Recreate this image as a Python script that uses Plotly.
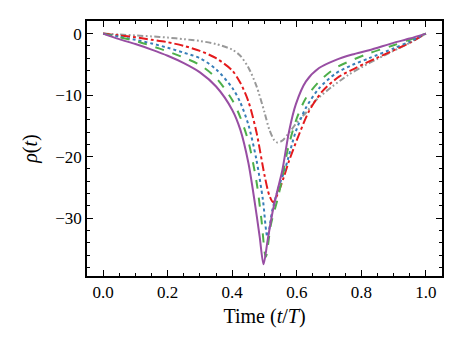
import plotly.graph_objects as go

# time (t/T) and rho(t), one pair of lists per curve
t_purple = [0, .05, .1, .15, .2, .25, .3, .35, .4, .425, .45, .47, .485, .497,
            .51, .525, .54, .555, .576, .597, .628, .669, .72, .772, .824,
            .9, .95, 1]
rho_purple = [0, -0.9, -1.7, -2.6, -3.6, -4.8, -6.3, -8.6, -12.4, -15.6, -21.0,
              -27.5, -33, -37.5, -33.5, -29, -25.5, -22.3, -15.9, -11.5, -7.8,
              -5.6, -4.3, -3.4, -2.7, -1.5, -0.8, 0]

t_green = [0, .05, .1, .15, .2, .25, .3, .35, .4, .425, .45, .475, .49, .504,
           .52, .54, .555, .571, .597, .628, .669, .72, .772, .824, .9, .95, 1]
rho_green = [0, -0.6, -1.2, -2.0, -2.9, -3.9, -5.1, -7.2, -10.8, -13.6, -17.5,
             -24, -30, -36.3, -31, -27, -23.5, -19.1, -14.2, -10.5, -7.8,
             -5.6, -4.3, -3.2, -1.9, -1.0, 0]

t_blue = [0, .05, .1, .15, .2, .25, .3, .35, .4, .425, .45, .475, .495, .509,
          .525, .545, .565, .597, .628, .669, .72, .772, .824, .9, .95, 1]
rho_blue = [0, -0.5, -1.0, -1.6, -2.3, -3.1, -4.0, -5.8, -8.8, -11.2, -14.8,
            -20.5, -27, -33, -28.5, -24.8, -21.8, -15.9, -12.1, -8.9, -6.5,
            -5.1, -4.0, -2.4, -1.3, 0]

t_red = [0, .05, .1, .15, .2, .25, .3, .35, .4, .425, .45, .475, .5, .515, .527,
         .545, .56, .576, .607, .638, .679, .731, .782, .813, .85, .9, .95, 1]
rho_red = [0, -0.3, -0.6, -1.0, -1.4, -2.0, -2.8, -4.0, -6.0, -8.0, -11.0,
           -16.0, -23.0, -26.3, -27.4, -25.5, -23.3, -20.7, -16.4, -12.6, -9.4,
           -7.0, -5.6, -4.8, -3.9, -2.7, -1.5, 0]

t_gray = [0, .05, .1, .15, .2, .25, .3, .35, .4, .425, .45, .475, .5, .515,
          .53, .54, .555, .575, .607, .628, .66, .71, .76, .803, .85, .9, .95, 1]
rho_gray = [0, -0.15, -0.3, -0.45, -0.65, -0.9, -1.2, -1.7, -2.6, -3.6, -5.5,
            -8.5, -12.8, -15.6, -17.3, -17.7, -17.4, -16.2, -14.0, -12.9, -10.8,
            -8.6, -6.7, -5.4, -4.1, -2.8, -1.5, 0]

x_ticks = [0.0, 0.2, 0.4, 0.6, 0.8, 1.0]
x_tick_text = ["0.0", "0.2", "0.4", "0.6", "0.8", "1.0"]
y_ticks = [0, -10, -20, -30]
y_tick_text = ["0", "\u221210", "\u221220", "\u221230"]

series = [
    (t_gray, rho_gray, "#999999", "6px,2.5px,1.8px,2.5px,1.8px,2.5px"),
    (t_red, rho_red, "#e41a1c", "dashdot"),
    (t_blue, rho_blue, "#377eb8", "dot"),
    (t_green, rho_green, "#4daf4a", "dash"),
    (t_purple, rho_purple, "#984ea3", "solid"),
]

fig = go.Figure()
for t, rho, color, dash in series:
    fig.add_trace(go.Scatter(
        x=t, y=rho, mode="lines",
        line=dict(color=color, width=2, dash=dash, shape="spline", smoothing=0.8),
        showlegend=False,
    ))

axis_style = dict(
    showline=True, linecolor="#000000", linewidth=1.5, mirror="ticks",
    ticks="inside", ticklen=6, tickwidth=1, tickcolor="#000000",
    showgrid=False, zeroline=False,
)

fig.update_xaxes(
    range=[-0.05, 1.05], tickvals=x_ticks, ticktext=x_tick_text,
    minor=dict(ticks="inside", dtick=0.05, ticklen=3.5, tickwidth=1, tickcolor="#000000"),
    title=dict(text="Time (<i>t</i>/<i>T</i>)", standoff=8),
    **axis_style,
)
fig.update_yaxes(
    range=[-39.4, 2.05], tickvals=y_ticks, ticktext=y_tick_text,
    minor=dict(ticks="inside", dtick=2, ticklen=3.5, tickwidth=1, tickcolor="#000000"),
    title=dict(text="<i>\u03c1</i>(<i>t</i>)", standoff=12),
    **axis_style,
)

# page body adds an 8px margin, so the figure is made 8px smaller
fig.update_layout(
    width=455, height=339,
    margin=dict(l=79, r=21, t=11, b=71),
    plot_bgcolor="white", paper_bgcolor="white",
    font=dict(family="Liberation Serif, DejaVu Serif, serif", size=17, color="black"),
)

fig.write_html("out.html")
